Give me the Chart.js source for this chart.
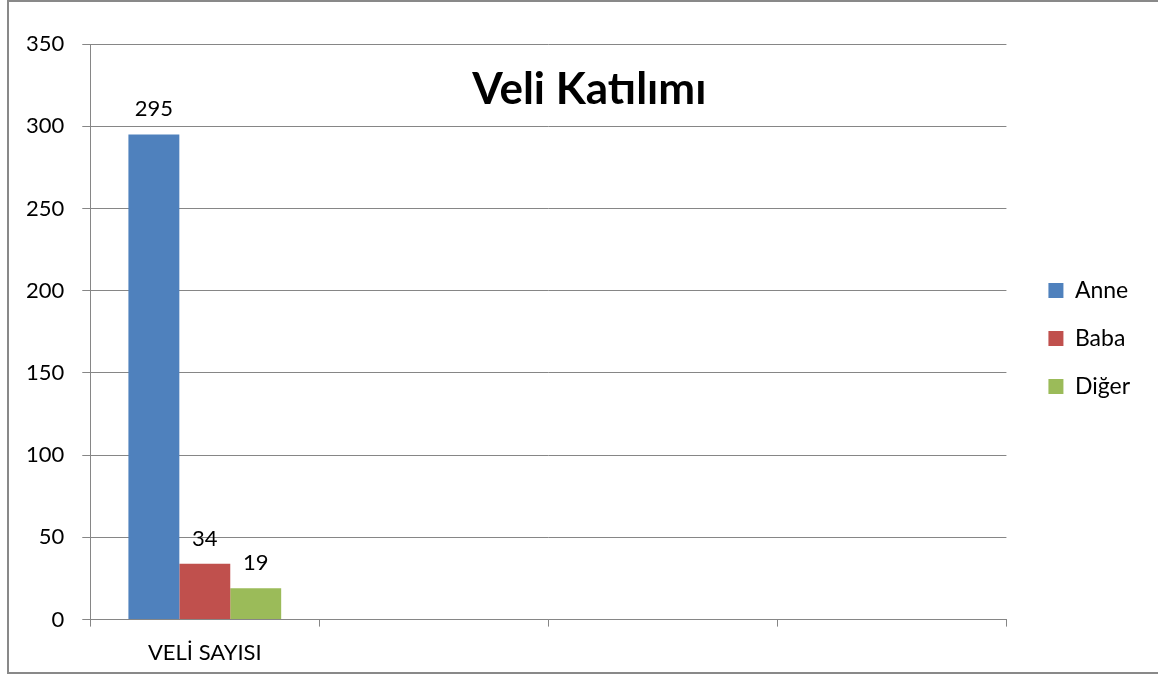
<!DOCTYPE html>
<html>
<head>
<meta charset="utf-8">
<script src="https://cdn.jsdelivr.net/npm/chart.js@4/dist/chart.umd.min.js"></script>
<style>
  html, body { margin: 0; padding: 0; background: #fff; }
  #frame {
    position: absolute; left: 7px; top: 0; width: 1170px; height: 670px;
    border: 2px solid #898989;
  }
  #wrap { position: absolute; left: 0; top: 0; width: 1158px; height: 677px; }
</style>
</head>
<body>
<div id="frame"></div>
<div id="wrap"><canvas id="chart"></canvas></div>
<script>
// chart data
const categories = ['VELİ SAYISI', '', '', ''];
const seriesNames = ['Anne', 'Baba', 'Diğer'];
const anne = [295];
const baba = [34];
const diger = [19];
const yTicks = [0, 50, 100, 150, 200, 250, 300, 350];

const colors = ['#4F81BD', '#C0504D', '#9BBB59'];
const axisGray = '#868686';

Chart.defaults.font.family = 'Lato, "Open Sans", sans-serif';
Chart.defaults.font.size = 22;
Chart.defaults.color = '#000';

// title drawn over the plot area, like the original
const titlePlugin = {
  id: 'overTitle',
  afterDraw(chart) {
    const ctx = chart.ctx;
    const area = chart.chartArea;
    ctx.save();
    ctx.font = 'bold 44px Lato, sans-serif';
    ctx.fillStyle = '#000';
    ctx.textAlign = 'center';
    ctx.textBaseline = 'middle';
    ctx.fillText('Veli Katılımı', (area.left + area.right) / 2 + 41, area.top + 46);
    ctx.restore();
  }
};

// value labels above each bar
const valuePlugin = {
  id: 'values',
  afterDatasetsDraw(chart) {
    const ctx = chart.ctx;
    ctx.save();
    ctx.font = '22px Lato, sans-serif';
    ctx.fillStyle = '#000';
    ctx.textAlign = 'center';
    ctx.textBaseline = 'alphabetic';
    chart.data.datasets.forEach((ds, i) => {
      chart.getDatasetMeta(i).data.forEach((bar, j) => {
        if (ds.data[j] == null) return;
        ctx.fillText(ds.data[j], bar.x, bar.y - 18);
      });
    });
    ctx.restore();
  }
};

// legend sits a bit higher than chart.js centres it
const legendShift = {
  id: 'legendShift',
  afterLayout(chart) {
    chart.legend.top -= 23;
    chart.legend.bottom -= 23;
  }
};

const seriesData = [anne, baba, diger];

new Chart(document.getElementById('chart'), {
  type: 'bar',
  data: {
    labels: categories,
    datasets: seriesNames.map((name, i) => ({
      label: name,
      data: seriesData[i],
      backgroundColor: colors[i],
      borderWidth: 0,
      categoryPercentage: 0.667,
      barPercentage: 1.0
    }))
  },
  options: {
    responsive: true,
    maintainAspectRatio: false,
    animation: false,
    layout: { padding: { top: 44, left: 8, right: 18, bottom: -2 } },
    plugins: {
      title: { display: false },
      tooltip: { enabled: false },
      legend: {
        position: 'right',
        labels: {
          boxWidth: 15,
          boxHeight: 15,
          padding: 25,
          font: { size: 23 }
        }
      }
    },
    scales: {
      x: {
        offset: true,
        grid: {
          offset: true,
          drawOnChartArea: false,
          color: axisGray,
          tickLength: 7
        },
        border: { color: axisGray },
        ticks: { padding: 13 }
      },
      y: {
        min: 0,
        max: 350,
        afterBuildTicks(axis) {
          axis.ticks = yTicks.map(v => ({ value: v }));
        },
        grid: { color: axisGray, tickLength: 8 },
        border: { color: axisGray },
        ticks: { padding: 18 }
      },
      // empty spacer between plot and legend
      gap: {
        position: 'right',
        grid: { display: false },
        border: { display: false },
        ticks: { display: false },
        afterFit(axis) { axis.width = 17; }
      }
    }
  },
  plugins: [titlePlugin, valuePlugin, legendShift]
});
</script>
</body>
</html>
